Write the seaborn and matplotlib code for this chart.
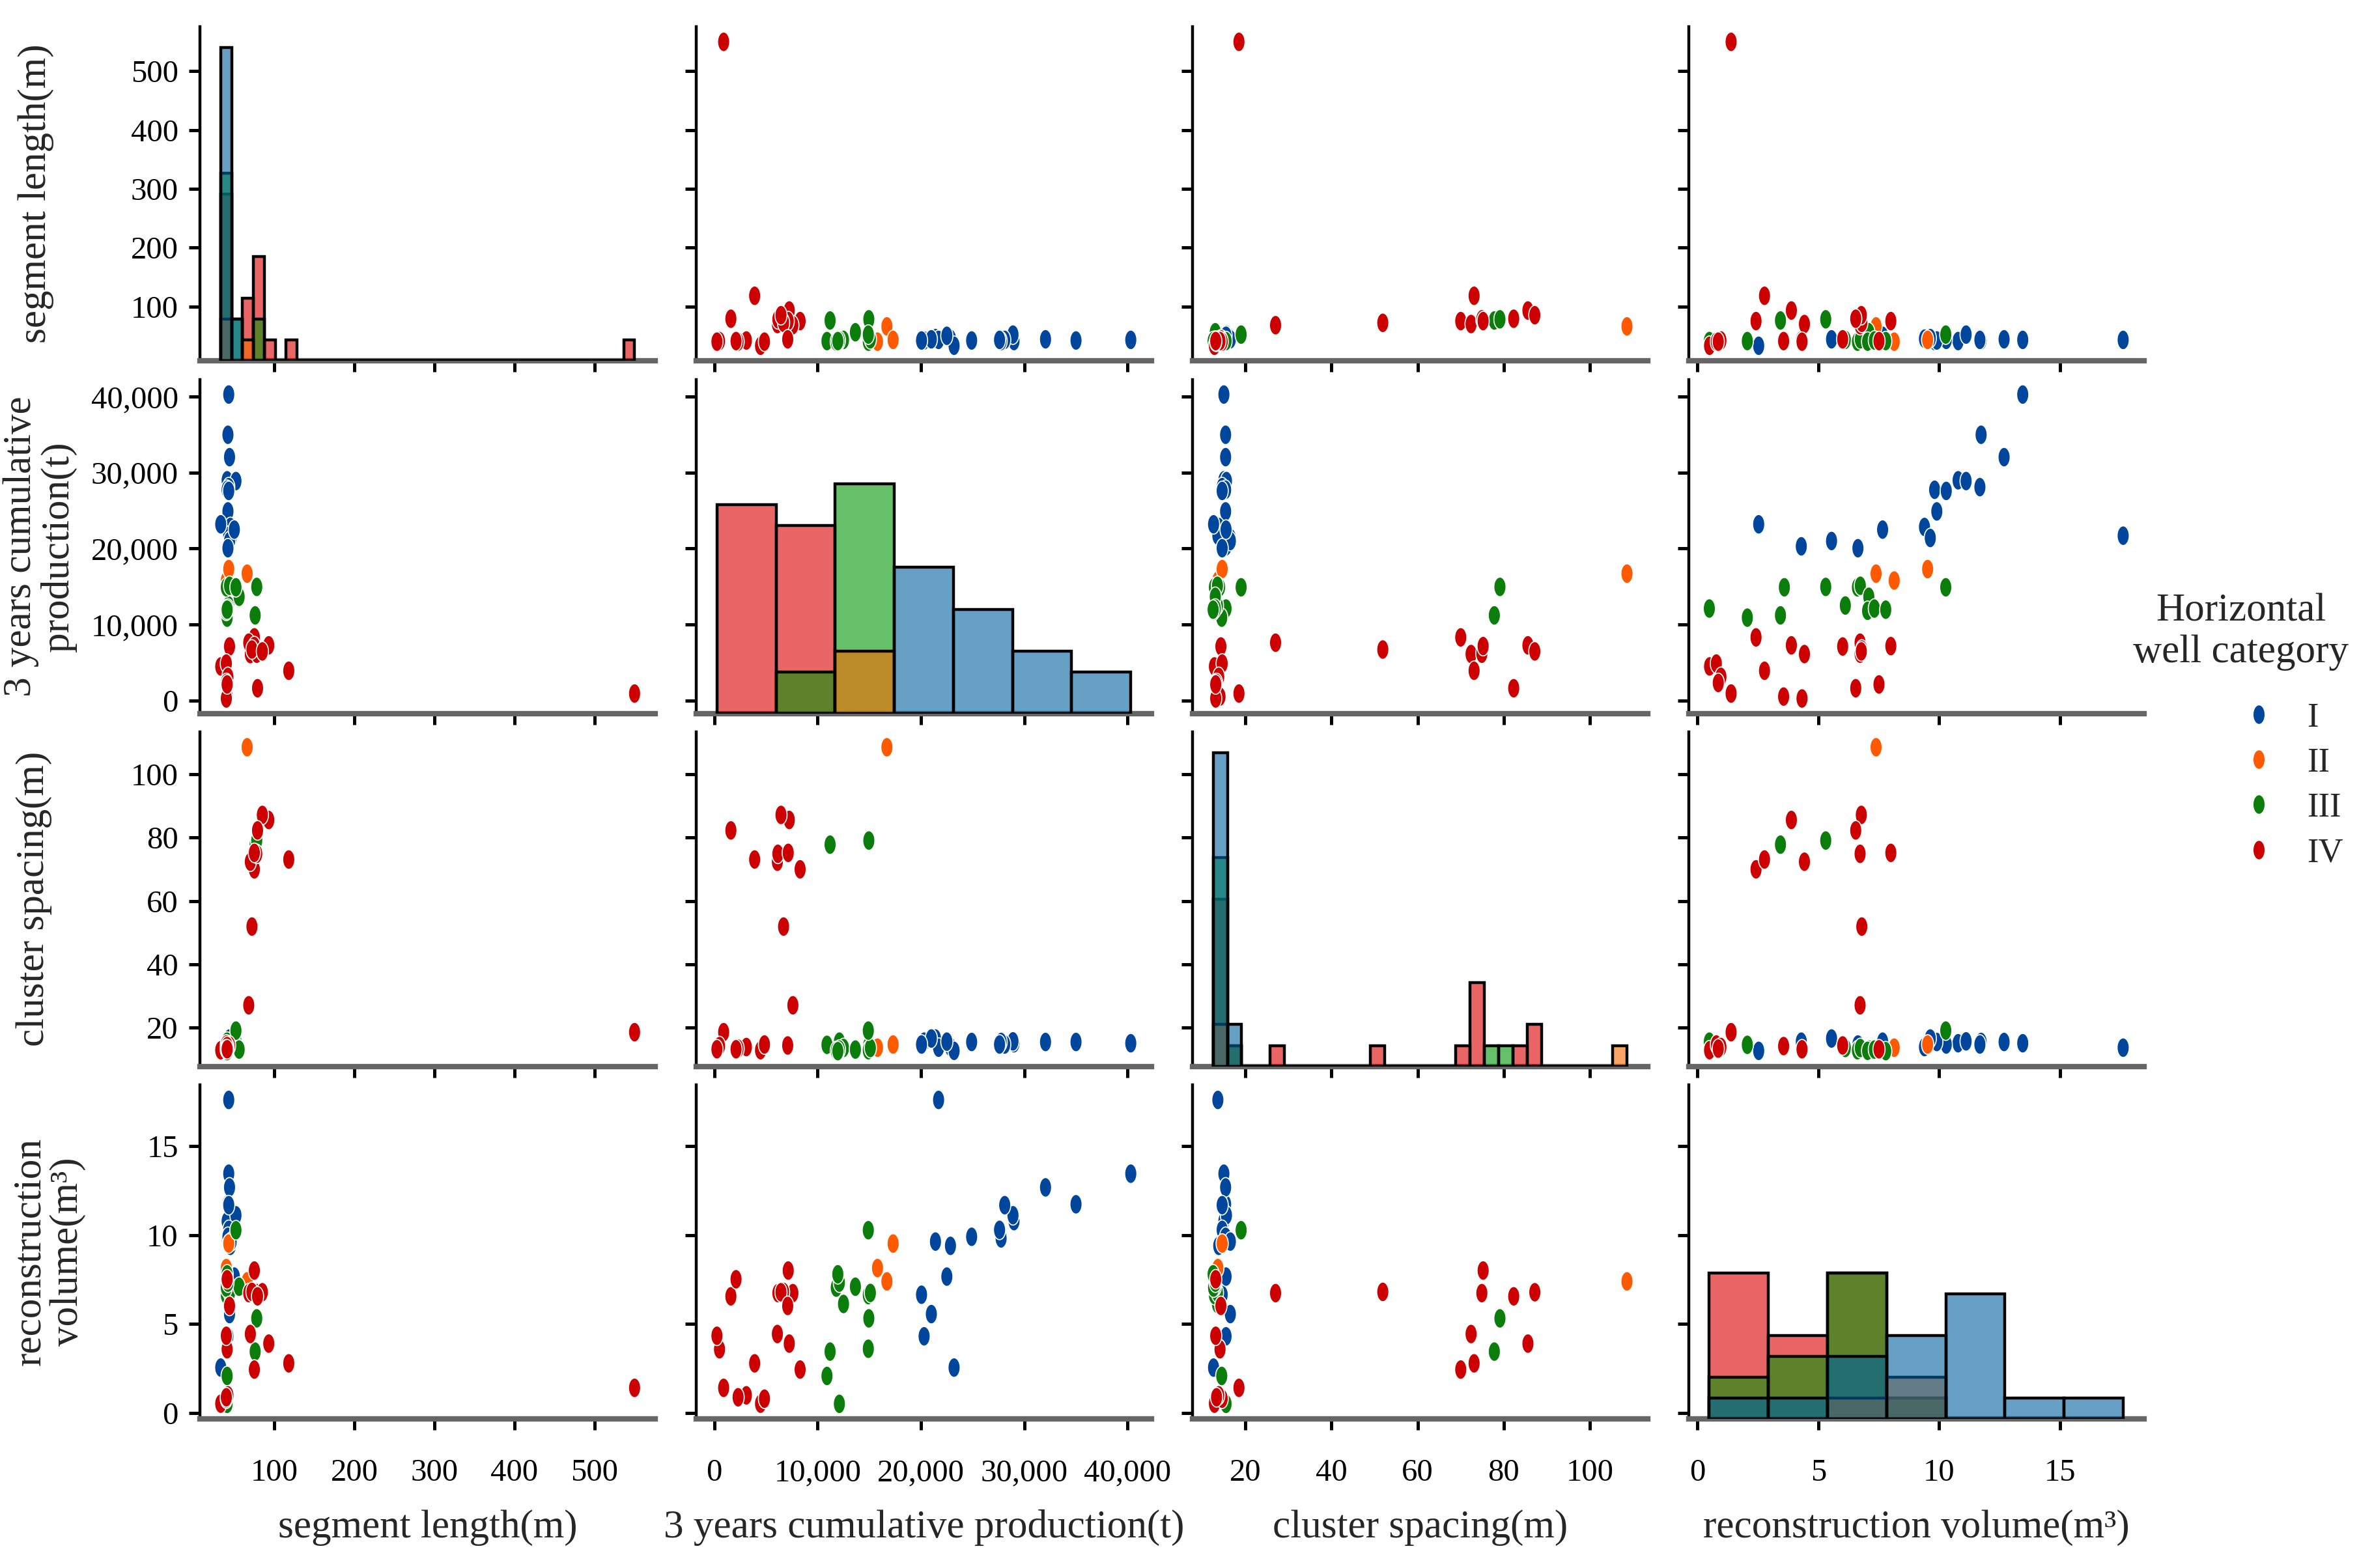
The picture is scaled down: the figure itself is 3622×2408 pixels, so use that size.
import numpy as np
import pandas as pd
import seaborn as sns
import matplotlib.pyplot as plt
from matplotlib.path import Path
from matplotlib.ticker import FuncFormatter, MultipleLocator

# well data (17 x I, 3 x II, 13 x III, 19 x IV)
category = ["I"] * 17 + ["II"] * 3 + ["III"] * 13 + ["IV"] * 19

segment_length = [43, 42, 44, 41, 52, 43, 41, 43, 42, 45, 46, 43, 33, 42, 44, 42, 50,
                  66, 40, 43,
                  41, 41, 76, 42, 78, 43, 40, 44, 56, 40, 42, 41, 52,
                  75, 93, 70, 68, 78, 75, 72, 85, 118, 79, 44, 33, 40, 42, 40, 550, 41, 40, 41]

production = [40300, 35000, 32050, 29000, 28900, 28100, 27750, 27600, 24900, 22850,
              21400, 21700, 23200, 20300, 21000, 20050, 22500,
              16700, 15790, 17300,
              12100, 10900, 11200, 14900, 14950, 12500, 14900, 15100, 13650, 11800,
              12100, 11950, 14900,
              8300, 7250, 6100, 7600, 6150, 7150, 6700, 6450, 3900, 1600, 7100,
              4470, 4850, 3100, 2300, 900, 500, 250, 2100]

cluster_spacing = [15.0, 15.4, 15.4, 15.0, 15.6, 14.6, 15.4, 14.6, 15.4, 13.8, 16.5,
                   13.6, 12.6, 15.5, 16.5, 14.6, 15.5,
                   108.6, 13.6, 14.6,
                   15.5, 14.5, 77.8, 14.0, 79.1, 13.5, 12.8, 13.5, 13.0, 12.6, 13.0, 12.5, 19.0,
                   70.0, 85.6, 72.4, 27.0, 74.9, 75.2, 51.9, 87.2, 73.1, 82.3, 14.3,
                   12.8, 14.6, 13.8, 13.3, 18.5, 14.1, 13.1, 13.1]

recon_volume = [13.45, 11.73, 12.68, 10.78, 11.11, 11.68, 9.81, 10.29, 9.90, 9.39,
                9.63, 17.6, 2.54, 4.30, 5.55, 6.64, 7.66,
                7.39, 8.14, 9.52,
                0.50, 2.07, 3.44, 3.60, 5.31, 6.12, 6.62, 6.74, 7.09, 7.04, 7.32, 7.79, 10.27,
                2.43, 3.89, 4.43, 6.73, 6.73, 8.00, 6.80, 6.78, 2.78, 6.55, 6.01,
                0.51, 0.79, 0.98, 0.87, 1.40, 3.57, 4.33, 7.51]

hue_order = ["I", "II", "III", "IV"]
point_colors = ["#00469c", "#ff5a00", "#0a7d0a", "#cc0000"]
hist_colors = ["#00619f", "#f76900", "#009605", "#dc0000"]

cols = ["seg", "prod", "sp", "vol"]
diag_bins = {"seg": 38, "prod": 7, "sp": 29, "vol": 7}
y_labels = ["segment length(m)", "3 years cumulative\nproduction(t)",
            "cluster spacing(m)", "reconstruction\nvolume(m\u00b3)"]
x_labels = ["segment length(m)", "3 years cumulative production(t)",
            "cluster spacing(m)", "reconstruction volume(m\u00b3)"]

df = pd.DataFrame({"seg": segment_length, "prod": production,
                   "sp": cluster_spacing, "vol": recon_volume,
                   "category": category})

sns.set_theme(style="ticks")
plt.rcParams["font.family"] = ["Liberation Serif", "DejaVu Serif"]
plt.rcParams["xtick.major.pad"] = 16
plt.rcParams["ytick.major.pad"] = 6

# squashed round marker like in the reference
t = np.linspace(0, 2 * np.pi, 41)
verts = np.column_stack([0.62 * np.cos(t), np.sin(t)])
codes = [Path.MOVETO] + [Path.LINETO] * (len(verts) - 2) + [Path.CLOSEPOLY]
ell = Path(verts, codes)


def diag_hist(x, hue=None, hue_order=None, palette=None, **kws):
    sns.histplot(x=x, hue=hue, hue_order=hue_order, palette=palette,
                 bins=diag_bins[x.name], ax=plt.gca(), legend=False, **kws)


g = sns.PairGrid(df, vars=cols, hue="category", hue_order=hue_order,
                 palette=point_colors, height=3)
g.map_offdiag(sns.scatterplot, marker=ell, s=118, edgecolor="white", linewidth=0.6)
g.map_diag(diag_hist, palette=hist_colors, multiple="layer", alpha=0.6,
           edgecolor="black", linewidth=1.6)
g.add_legend()

fig = g.figure
fig.set_size_inches(18.11, 12.04)
fig.subplots_adjust(left=0.0848, right=0.9088, top=0.983, bottom=0.095,
                    wspace=0.09, hspace=0.055)

thousands = FuncFormatter(lambda v, p: f"{v:,.0f}")
steps = [100, 10000, 20, 5]
for i in range(4):
    g.axes[i, 0].yaxis.set_major_locator(MultipleLocator(steps[i]))
    g.axes[0, i].xaxis.set_major_locator(MultipleLocator(steps[i]))
g.axes[1, 0].yaxis.set_major_formatter(thousands)
g.axes[0, 1].xaxis.set_major_formatter(thousands)

for ax in g.axes.flat:
    ax.spines["left"].set_color("black")
    ax.spines["left"].set_linewidth(1.6)
    ax.spines["bottom"].set_color("#666666")
    ax.spines["bottom"].set_linewidth(3)
    ax.tick_params(labelsize=17.5, width=1.8, length=6, colors="black")
    ax.set_xlabel("")
    ax.set_ylabel("")

g.diag_axes[1].set_ylim(0, 16)
g.diag_axes[3].set_ylim(0, 16)

ylab_x = [-0.32, -0.27, -0.325, -0.25]
for i in range(4):
    ax = g.axes[i, 0]
    ax.set_ylabel(y_labels[i], fontsize=22, linespacing=1.05)
    ax.yaxis.set_label_coords(ylab_x[i], 0.5)
    ax = g.axes[3, i]
    ax.set_xlabel(x_labels[i], fontsize=22)
    ax.xaxis.set_label_coords(0.5, -0.27)

sns.move_legend(g, "upper left", bbox_to_anchor=(0.943, 0.563), title=None,
                frameon=False, fontsize=19, handletextpad=0.9, labelspacing=0.4,
                borderpad=0, handlelength=1.0)
fig.text(0.950, 0.597, "Horizontal\nwell category", ha="center", va="center",
         fontsize=22, linespacing=1.2)

fig.savefig("out.png", dpi=200)
